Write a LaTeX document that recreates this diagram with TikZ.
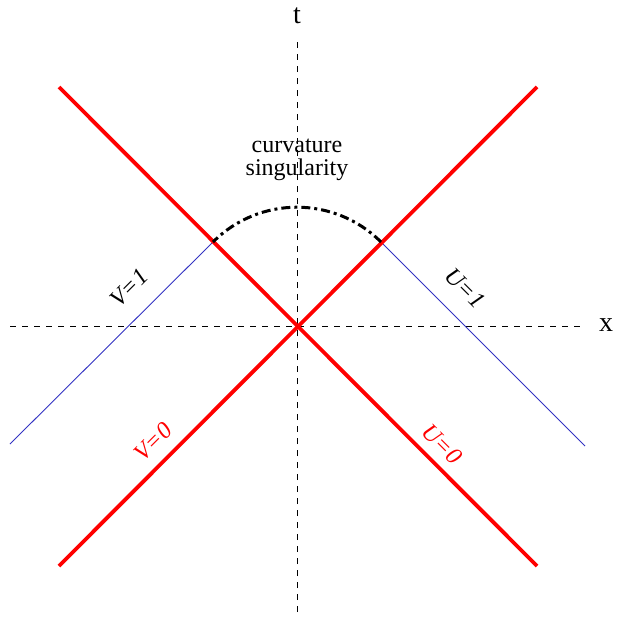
\documentclass[tikz,border=0pt]{standalone}
\usepackage{fontspec}
\setmainfont{Liberation Serif}
\begin{document}
\begin{tikzpicture}[x=1pt,y=-1pt,
  axis/.style={black, line width=0.8pt, dash pattern=on 6pt off 6pt},
  cone/.style={red, line width=3.8pt},
  blueline/.style={blue!70!black!80, line width=0.9pt},
  sing/.style={black, line width=3pt, dash pattern=on 9pt off 4pt on 3pt off 4pt},
  lbl/.style={font=\itshape\fontsize{24}{24}\selectfont, inner sep=0pt},
  axlbl/.style={font=\fontsize{28}{28}\selectfont, inner sep=0pt}]
\useasboundingbox (0,0) rectangle (616,618);
\coordinate (O) at (297,326);
\coordinate (tb) at (297,612);
\coordinate (tt) at (297,40);
\coordinate (xl) at (10,326);
\coordinate (xr) at (585,326);
\coordinate (A) at (59,87);
\coordinate (B) at (537,566);
\coordinate (C) at (537,87);
\coordinate (D) at (59,566);
\coordinate (P) at (213,242);
\coordinate (Q) at (381,242);
\coordinate (Pe) at (10,444);
\coordinate (Qe) at (585,446);
\draw[axis] (tb) -- (tt);
\draw[axis] (xl) -- (xr);
\draw[blueline] (P) -- (Pe);
\draw[blueline] (Q) -- (Qe);
\draw[cone] (A) -- (B);
\draw[cone] (C) -- (D);
\draw[sing] (Q) arc[start angle=-45, end angle=-135, radius=118.8];
\node[axlbl] (tlab) at (297,16) {t};
\node[axlbl] (xlab) at (606,325) {x};
\node[font=\fontsize{24}{23}\selectfont, align=center, inner sep=0pt] (cs) at (297,160) {curvature\\singularity};
\node[lbl, rotate=45] (v1) at (129,288) {V=1};
\node[lbl, rotate=-45] (u1) at (465,288) {U=1};
\node[lbl, rotate=45, red] (v0) at (153,442) {V=0};
\node[lbl, rotate=-45, red] (u0) at (442,444) {U=0};
\end{tikzpicture}
\end{document}
